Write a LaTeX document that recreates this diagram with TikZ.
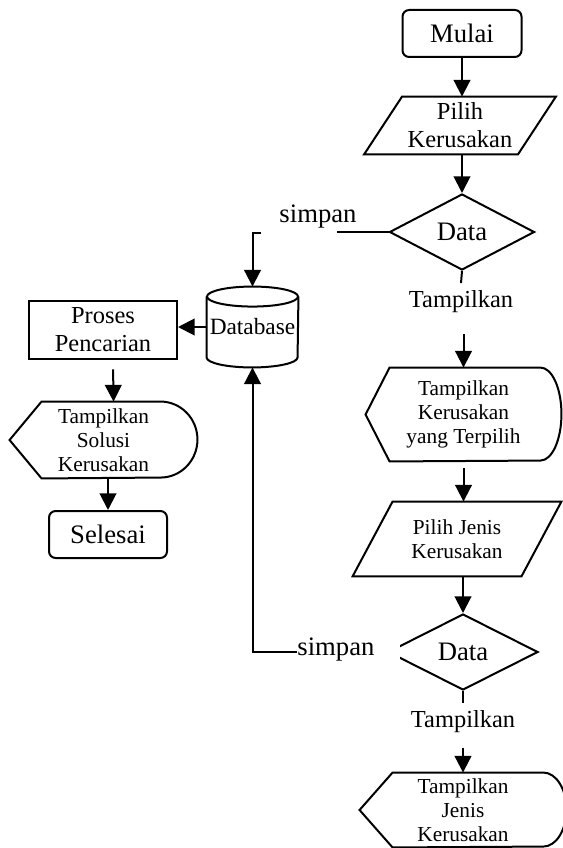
\documentclass[tikz,border=0pt]{standalone}
\usepackage{fontspec}
\setmainfont{Liberation Serif}
\usetikzlibrary{shapes.geometric,arrows.meta,calc}

\newcommand{\unitpx}{0.45pt}

% parallelogram (input/output) around a node
\newcommand{\ioout}[2]{%
    \draw[outline] (#1.south west) -- ($(#1.north west)+(#2,0)$) -- (#1.north east)
        -- ($(#1.south east)-(#2,0)$) -- cycle;}

% display symbol: pointed left, rounded right
\newcommand{\displayout}[4]{%
    \draw[outline] (#1.west) -- ($(#1.north west)+(#2,0)$) -- ($(#1.north east)-(#3,0)$)
        arc[start angle=90, end angle=-90, x radius=#3*\unitpx, y radius=#4*\unitpx]
        -- ($(#1.south west)+(#2,0)$) -- cycle;}

\begin{document}
\begin{tikzpicture}[
    x=\unitpx, y=-\unitpx,
    outline/.style={draw, line width=0.9pt},
    link/.style={line width=0.9pt},
    arr/.style={line width=0.9pt, -{Triangle[length=7.5pt,width=7.5pt]}},
    boxsize/.style 2 args={minimum width=#1*\unitpx, minimum height=#2*\unitpx},
    txt/.style={inner sep=0pt, align=center},
    terminal/.style={outline, rounded corners=3pt, align=center},
    big/.style={font=\fontsize{12}{14}\selectfont},
    mid/.style={font=\fontsize{11}{12.5}\selectfont},
    small/.style={font=\fontsize{9.6}{10.8}\selectfont},
]
    \useasboundingbox (0,0) rectangle (563,848);

    % main column
    \node[terminal, big, boxsize={119}{47}] (mulai) at (462,33.5) {Mulai};
    \node[txt, mid, boxsize={191}{57}] (pk) at (460,125.5) {Pilih\\Kerusakan};
    \ioout{pk}{38}
    \node[diamond, outline, big, inner sep=0pt, boxsize={145}{76}] (d1) at (462,232) {Data};
    \node[big] (simpanA) at (318,217) {simpan};
    \coordinate (s1end) at (337,232);
    \coordinate (s1top) at (261,233);
    \node[mid] (tampA) at (461,302) {Tampilkan};
    \node[txt, small, boxsize={195}{93}] (tks) at (463.5,414.5) {Tampilkan\\Kerusakan\\yang Terpilih};
    \displayout{tks}{24}{21}{46.5}
    \node[txt, small, boxsize={208}{74}] (pjk) at (457,539) {Pilih Jenis\\Kerusakan};
    \ioout{pjk}{40}
    \node[diamond, outline, big, inner sep=0pt, boxsize={150}{76}] (d2) at (463,652) {Data};
    \node[mid] (tampB) at (463,722) {Tampilkan};
    \node[txt, small, boxsize={206}{74}] (tjk) at (463,810) {Tampilkan\\Jenis\\Kerusakan};
    \displayout{tjk}{33}{23}{37}

    % database and search
    \node[txt, font=\fontsize{10.5}{12}\selectfont, boxsize={91}{80}] (db) at (252.5,327) {Database};
    \draw[outline] ($(db.north)+(0,10)$) ellipse [x radius=45.5*\unitpx, y radius=10*\unitpx];
    \draw[outline] ($(db.north west)+(0,10)$) -- ($(db.south west)-(0,10)$)
        arc[start angle=180, end angle=360, x radius=45.5*\unitpx, y radius=10*\unitpx]
        -- ($(db.north east)+(0,10)$);
    \node[outline, mid, align=center, boxsize={148}{58}] (proses) at (103,330) {Proses\\Pencarian};
    \node[txt, small, boxsize={187}{76}] (solusi) at (103.5,440) {Tampilkan\\Solusi\\Kerusakan};
    \displayout{solusi}{32}{37}{38}
    \node[terminal, big, boxsize={118}{47}] (selesai) at (108,534.5) {Selesai};

    % connectors
    \draw[arr] (mulai) -- (mulai |- pk.north);
    \draw[arr] (pk.south -| d1.north) -- (d1.north);
    \draw[link] (d1.west) -- (s1end);
    \draw[arr] (s1top) -| (db.north);
    \draw[link] (d1.south) -- (tampA.north);
    \draw[arr, shorten <=6pt] (tampA.south -| tks.north) -- (tks.north);
    \draw[arr, shorten <=3pt] (tks.south) -- (tks.south |- pjk.north);
    \draw[arr] (pjk.south -| d2.north) -- (d2.north);
    \draw[link] (d2.south) -- (tampB.north);
    \draw[arr, shorten <=3pt] (tampB.south -| tjk.north) -- (tjk.north);
    \draw[arr] (d2.west) -| (db.south);
    \node[big, fill=white, anchor=west, inner xsep=0pt, inner ysep=2pt, text width=46pt] (simpanB) at (297,650) {simpan};
    \draw[arr] (db.west) -- (db.west -| proses.east);
    \draw[arr, shorten <=4pt] ($(proses.south)+(10,0)$) -- ($(solusi.north)+(10,0)$);
    \draw[arr] (solusi.south -| selesai.north) -- (selesai.north);
\end{tikzpicture}
\end{document}
